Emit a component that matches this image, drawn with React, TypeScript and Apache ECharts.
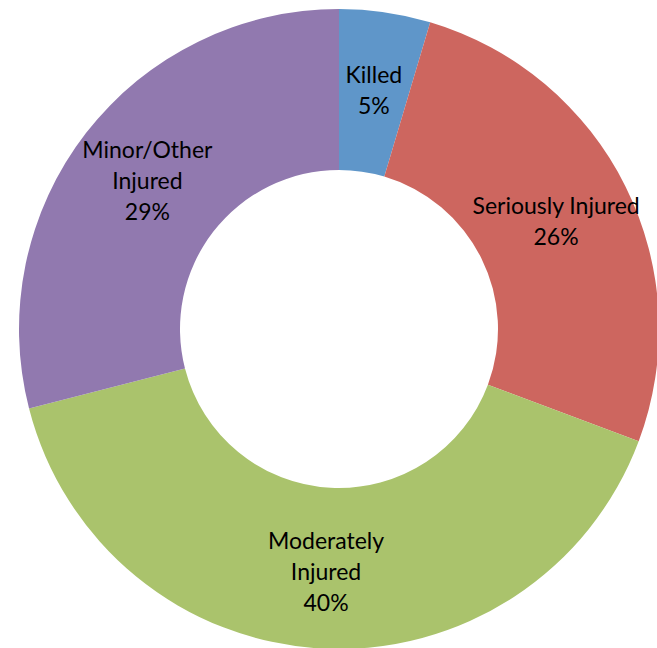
import React, { useEffect, useRef } from "react";
import * as echarts from "echarts";

const categories = ["Killed", "Seriously Injured", "Moderately Injured", "Minor/Other Injured"];
const labelNames = ["Killed", "Seriously Injured", "Moderately\nInjured", "Minor/Other\nInjured"];
const values = [4.6, 26.1, 40.3, 29.0];
const colors = ["#5F96C9", "#CD665F", "#AAC36C", "#9179AF"];

export default function App() {
  const ref = useRef<HTMLDivElement>(null);
  useEffect(() => {
    if (!ref.current) return;
    const chart = echarts.init(ref.current, undefined, { renderer: "svg" });
    chart.setOption({
      animation: false,
      series: [
        {
          type: "pie",
          center: [339, 329],
          radius: [159, 320],
          startAngle: 90,
          clockwise: true,
          percentPrecision: 0,
          avoidLabelOverlap: false,
          data: categories.map((c, i) => ({
            name: c,
            value: values[i],
            itemStyle: { color: colors[i] },
            label: { formatter: labelNames[i] + "\n{d}%" },
          })),
          label: {
            show: true,
            position: "inside",
            color: "#000",
            fontSize: 23,
            lineHeight: 31,
            fontFamily: "Lato, 'Open Sans', sans-serif",
            align: "center",
          },
          labelLine: { show: false },
          itemStyle: { borderWidth: 0 },
          emphasis: { disabled: true },
        },
      ],
    });
    return () => chart.dispose();
  }, []);
  return (
    <div
      ref={ref}
      style={{ position: "absolute", left: 0, top: 0, width: 657, height: 648, background: "#fff" }}
    />
  );
}
